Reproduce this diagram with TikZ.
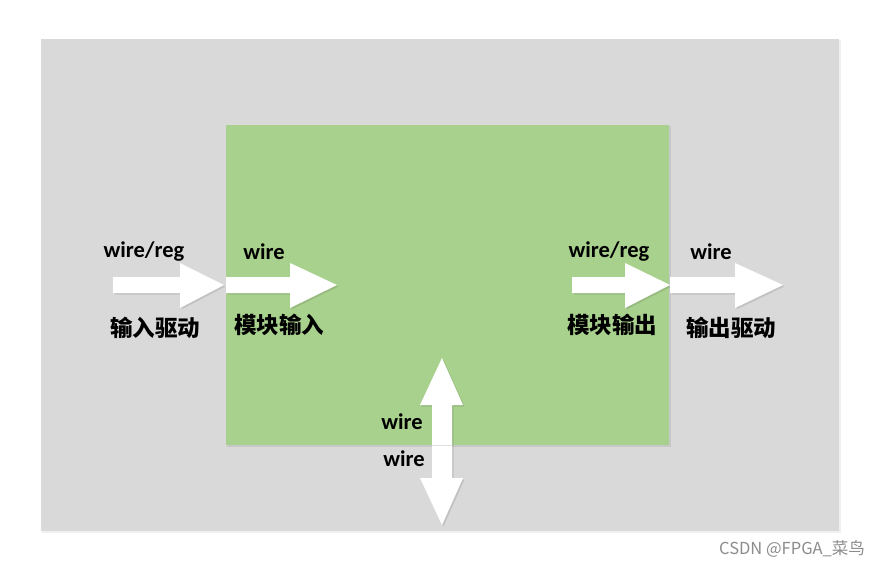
\documentclass[tikz,border=0pt]{standalone}
\usepackage{fontspec}
\setmainfont{Carlito}
\newfontfamily\cjk{Noto Sans CJK SC}
\definecolor{bggray}{HTML}{D9D9D9}
\definecolor{boxgreen}{HTML}{A9D18E}
\definecolor{wmgray}{HTML}{8C8C8C}
\begin{document}
\begin{tikzpicture}[x=1pt,y=-1pt,
  lbl/.style={font=\fontsize{22.5}{22.5}\selectfont\bfseries, text=black, inner sep=0pt},
  cjklbl/.style={font=\cjk\bfseries\fontsize{22.5}{22.5}\selectfont, text=black, inner sep=0pt},
  blockarrow/.style={fill=white, draw=none},
  arrowshadow/.style={fill=black, opacity=0.10, draw=none}
]
\useasboundingbox (0,0) rectangle (881,566);
\fill[white] (0,0) rectangle (881,566);
% outer gray panel
\fill[black, opacity=0.06] (42,40) rectangle (841,533);
\fill[bggray] (41,39) rectangle (839,531);
% green module box
\fill[black, opacity=0.08] (227,126) rectangle (671,447);
\fill[boxgreen] (226,125) rectangle (669,445);

% arrow shapes (shadow then arrow)
\foreach \dx/\dy/\s in {1.5/1.5/arrowshadow, 0/0/blockarrow}{
  % input drive arrow
  \fill[\s, shift={(\dx,\dy)}] (113,277) -- (180,277) -- (180,263) -- (224,285) -- (180,308) -- (180,293) -- (113,293) -- cycle;
  % module input arrow
  \fill[\s, shift={(\dx,\dy)}] (226,277) -- (290,277) -- (290,263) -- (337,285) -- (290,308) -- (290,293) -- (226,293) -- cycle;
  % module output arrow
  \fill[\s, shift={(\dx,\dy)}] (572,277) -- (625,277) -- (625,263) -- (670,285) -- (625,308) -- (625,293) -- (572,293) -- cycle;
  % output drive arrow
  \fill[\s, shift={(\dx,\dy)}] (670,277) -- (735,277) -- (735,263) -- (783,285) -- (735,308) -- (735,293) -- (670,293) -- cycle;
  % vertical double arrow
  \fill[\s, shift={(\dx,\dy)}] (442,358) -- (463,405) -- (452,405) -- (452,478) -- (463,478) -- (442,525) -- (420,478) -- (432,478) -- (432,405) -- (420,405) -- cycle;
}
\draw[black!12, line width=0.5pt] (432,445) -- (452,445);

% labels
\node[lbl] (inType) at (144,252) {wire/reg};
\node[lbl] (modInType) at (264,252) {wire};
\node[lbl] (modOutType) at (609,252) {wire/reg};
\node[lbl] (outType) at (711,252) {wire};
\node[cjklbl] (inDrive) at (155,328) {输入驱动};
\node[cjklbl] (modIn) at (279,325) {模块输入};
\node[cjklbl] (modOut) at (612,325) {模块输出};
\node[cjklbl] (outDrive) at (731,328) {输出驱动};
\node[lbl] (ioIn) at (402,422) {wire};
\node[lbl] (ioOut) at (404,459) {wire};

% watermark
\node[font=\cjk\fontsize{16.5}{16.5}\selectfont, text=wmgray, inner sep=0pt] (wm) at (792,549) {CSDN @FPGA\_菜鸟};
\end{tikzpicture}
\end{document}
